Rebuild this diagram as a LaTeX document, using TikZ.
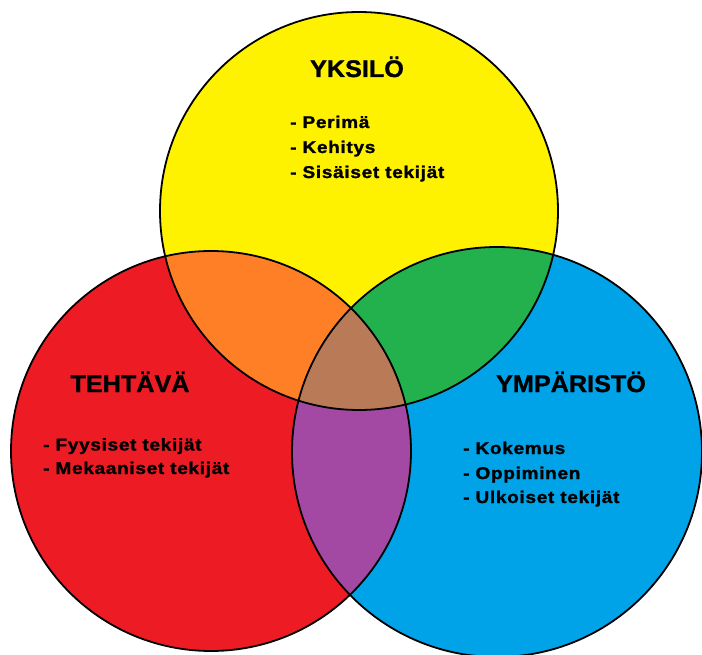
\documentclass[tikz,border=0pt]{standalone}
\usepackage{fontspec}
\usepackage{xcolor}
\usepackage{tikz}
\newfontfamily\titlefont{Liberation Sans}[FakeStretch=1.05,FakeBold=1.2]
\newfontfamily\itemfont{Liberation Sans}[FakeStretch=1.12,LetterSpace=4,FakeBold=1.4]
\definecolor{vyellow}{RGB}{255,242,0}
\definecolor{vred}{RGB}{237,28,36}
\definecolor{vblue}{RGB}{0,162,232}
\definecolor{vorange}{RGB}{255,127,39}
\definecolor{vgreen}{RGB}{34,177,76}
\definecolor{vpurple}{RGB}{163,73,164}
\definecolor{vbrown}{RGB}{185,122,87}

\begin{document}
\begin{tikzpicture}[x=1pt, y=-1pt,
    ring/.style = {draw = black, line width = 1.8pt},
    title/.style = {inner sep = 0pt, anchor = base, font = \titlefont\bfseries\fontsize{24}{24}\selectfont},
    item/.style = {inner sep = 0pt, anchor = base west, font = \itemfont\bfseries\fontsize{17}{17}\selectfont}]
        \useasboundingbox (0, 0) rectangle (702, 655);
        \coordinate (Y) at (359, 211);
        \coordinate (R) at (211, 451);
        \coordinate (B) at (497, 452);
        \fill [vyellow] (Y) circle [radius = 199pt];
        \fill [vred] (R) circle [radius = 200pt];
        \fill [vblue] (B) circle [radius = 205pt];
        \begin{scope}
            \clip (R) circle [radius = 200pt];
            \fill [vpurple] (B) circle [radius = 205pt];
        \end{scope}
        \begin{scope}
            \clip (Y) circle [radius = 199pt];
            \fill [vorange] (R) circle [radius = 200pt];
            \fill [vgreen] (B) circle [radius = 205pt];
            \clip (R) circle [radius = 200pt];
            \fill [vbrown] (B) circle [radius = 205pt];
        \end{scope}
        \draw [ring] (Y) circle [radius = 199pt];
        \draw [ring] (R) circle [radius = 200pt];
        \draw [ring] (B) circle [radius = 205pt];
        \node (yksilo) at (357, 77) [title] {YKSILÖ};
        \node (tehtava) at (130, 392) [title] {TEHTÄVÄ};
        \node (ymparisto) at (571, 392) [title] {YMPÄRISTÖ};
        \node (y1) at (290, 128) [item] {- Perimä};
        \node (y2) at (290, 153) [item] {- Kehitys};
        \node (y3) at (290, 178) [item] {- Sisäiset tekijät};
        \node (t1) at (43, 450.5) [item] {- Fyysiset tekijät};
        \node (t2) at (43, 474) [item] {- Mekaaniset tekijät};
        \node (b1) at (463, 454) [item] {- Kokemus};
        \node (b2) at (463, 479) [item] {- Oppiminen};
        \node (b3) at (463, 503) [item] {- Ulkoiset tekijät};
    \end{tikzpicture}
\end{document}
